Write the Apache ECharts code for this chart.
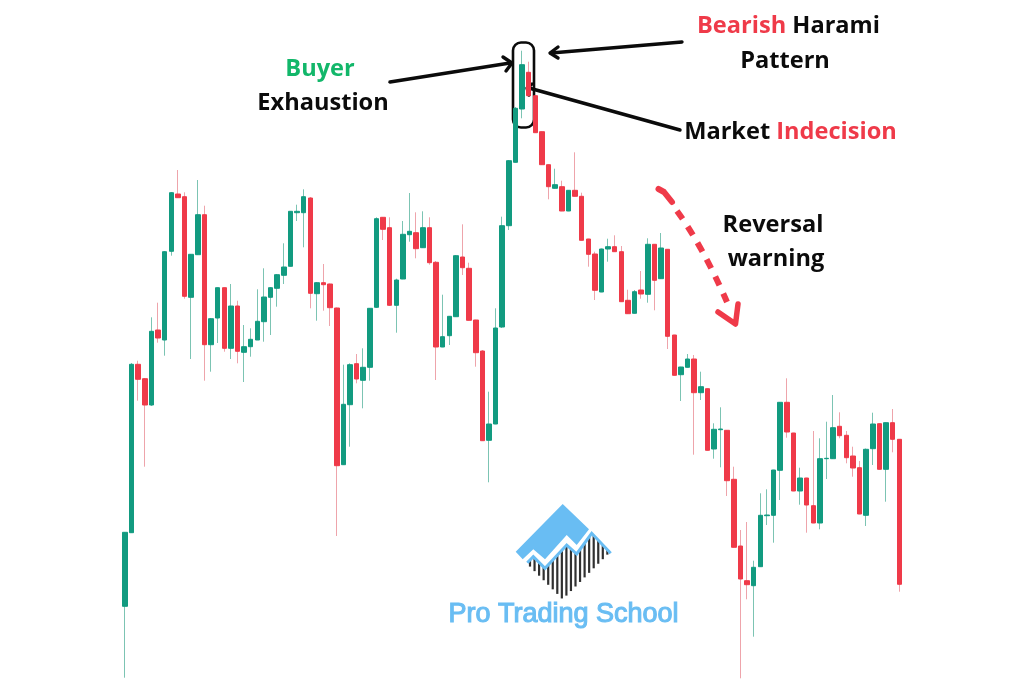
<!DOCTYPE html>
<html>
<head>
<meta charset="utf-8">
<title>Bearish Harami Pattern</title>
<script src="https://cdn.jsdelivr.net/npm/echarts@6/dist/echarts.min.js"></script>
<style>
html, body { margin: 0; padding: 0; background: #fff; }
#chart { width: 1024px; height: 683px; }
</style>
</head>
<body>
<div id="chart"></div>
<script>
var opens = [76.7,150.3,318.7,304.3,278,353,343,431.7,489,486.3,385.7,428.3,468.3,338.3,365,395.3,334.7,377,330.7,336.3,
343,361.3,385.7,394.7,407.7,416.7,470.3,470.3,485,389.3,400.3,399,375,218.3,278.3,319.3,302.7,315.7,375.7,465.7,
455.3,377.7,404,448.3,450.3,435.3,455.3,420.7,336,347.3,366.3,426,414.7,363,332,242.7,259,356,457.3,520.7,
574,610.7,587.3,551.3,518.3,494.7,496.3,472,492.7,486.7,444,429,391,434,436.3,431.3,382.7,369.7,393,388.7,
438.7,404.3,433.7,348,308.3,315.7,324,290.3,294.3,234,253.3,252.7,203.7,137,102.3,97.3,116.3,167.3,167.7,212.7,
280.7,250,192,205,177.3,160,224.3,224.3,256.7,247.7,227,215.3,167.7,234.3,259.3,213.7,260.3,243.7];
var closes = [150.7,318.7,303.7,278,351.7,345,431.3,490.3,485.3,386.7,428.7,468.3,338.3,364.3,395.3,334.7,377,331.7,336.3,343.7,
361.7,386,395.3,408.3,416,471.7,471.7,486.3,389.7,400.3,398.3,375.3,217.3,278.7,318.3,304,315.7,374.7,464.3,453.7,
377.7,403,448.7,451.7,434.3,455.3,420.3,336,346.3,366.7,427.3,415.3,362.7,330.3,242.3,259,355,457.3,522.3,574.7,
618.3,587.3,550.3,518.3,496.3,498.3,472,492.7,486.7,442.7,428.7,392.7,434,436.3,431.3,381.3,369.3,391.3,389,438.7,
402.7,435,346.7,307.7,316,324,290.3,296.3,232.7,253.7,254,202.3,135.7,104,98.3,115.7,167.7,168,213,280.7,
251,192,205,178,160,224.3,224.7,255.3,247.3,225.3,215,169,233.7,259,213.7,260.3,243.7,98.7];
var lows = [5.3,150,282.3,216.3,277,340.3,327.3,427.3,485,384.3,324,428,302.3,311.3,340,331.3,324,319.7,301,326.3,
343,341.3,348,376.3,399,416.5,462,435.7,374.7,362.3,372.3,357,147,218,236.3,299.7,274.7,302.3,375,443,
377,350.3,403.8,441.3,424.7,435,418.3,303,335.8,338,366,408,362.5,316.3,242,200.7,258.8,355,453,520.5,
564.7,587,550,518,483.7,494.5,471.8,471.8,486.5,442.5,416.3,383,390.8,421.3,431,381,369,369.5,384.3,380.3,
372.7,404,334,307.5,282,315.5,228.3,283,232.5,224.3,215.7,187,135.5,4.7,83.7,46.3,116,158,140.3,183,
245.3,191.8,178.3,150.3,159.8,153.7,204,224,244.7,219.7,206.3,168.8,157,218,213.5,181.3,230.7,91.3];
var highs = [151,320,322.3,305,365.7,380.3,432,491,513,490.7,429,503,477.3,365,395.5,395.5,399,382.3,358,354.7,
393.7,414.7,396,409,439.7,472,478.3,493.7,486,401,419,399.5,375.5,318.3,319.7,329,334.7,375,465.7,466,
465.7,404.3,462,490,470.7,471.7,465.7,422,388.3,367,428,458.7,420.3,363.2,333,291.3,374.7,466.3,523,576,
632.3,621.3,587.5,551.5,518.5,514.3,502.3,493,530.7,490.3,444.2,431.3,434.5,444.3,447.7,437,393.3,393,412,444.7,
439,450,434,348.2,316.2,329,328,311.3,294.5,259.7,275.7,253,216.3,153,161,122.3,189.7,193.7,213.2,281,
304.7,250.2,215.3,205.2,252,244.7,261.3,288,270.7,252,236.3,222,234.5,270.3,259.5,260.5,274,243.9];
var categories = opens.map(function (v, i) { return 'C' + (i + 1); });

var upColor = '#129b80';
var downColor = '#ef3a49';
var upWick = '#7cc4b3';
var downWick = '#eea4ab';
var black = '#0b0b0b';
var textGreen = '#12b76a';
var logoBlue = '#69bdf3';
var labelFont = '700 23.6px "Open Sans", sans-serif';

var wickData = opens.map(function (o, i) { return [o, closes[i], lows[i], highs[i]]; });
var bodyData = opens.map(function (o, i) {
    return [o, closes[i], Math.min(o, closes[i]), Math.max(o, closes[i])];
});

function label(cx, cy, text, fill, rich) {
    return {
        type: 'text', silent: true, x: cx, y: cy,
        style: {
            text: text, align: 'center', verticalAlign: 'middle',
            font: labelFont, fill: fill || black, rich: rich
        }
    };
}

function arrow(points, stroke, width) {
    return {
        type: 'polyline', silent: true,
        shape: { points: points },
        style: { stroke: stroke, lineWidth: width, fill: null, lineCap: 'round', lineJoin: 'round' }
    };
}

var twoTone = { r: { fill: downColor, font: labelFont }, k: { fill: black, font: labelFont } };

var graphics = [
    {
        type: 'rect', silent: true,
        shape: { x: 513, y: 42.5, width: 21, height: 85, r: 8 },
        style: { fill: null, stroke: black, lineWidth: 2.6 }
    },
    arrow([[390, 82], [510, 63]], black, 3.4),
    arrow([[503, 57], [512, 63], [506, 71]], black, 3.4),
    arrow([[682, 42], [551, 53]], black, 3.4),
    arrow([[558, 47], [550, 53], [558, 58]], black, 3.4),
    arrow([[680, 130], [529, 88]], black, 3.4),
    arrow([[532, 84], [527, 88], [529, 95]], black, 3.4),
    label(320, 69, 'Buyer', textGreen),
    label(323, 103, 'Exhaustion'),
    label(788.5, 26.5, '{r|Bearish} {k|Harami}', null, twoTone),
    label(785, 61, 'Pattern'),
    label(790.5, 132, '{k|Market} {r|Indecision}', null, twoTone),
    label(773, 225, 'Reversal'),
    label(776, 259, 'warning'),
    arrow([[658.5, 189], [664, 192], [672, 202]], downColor, 6),
    {
        type: 'bezierCurve', silent: true,
        shape: { x1: 677, y1: 211, x2: 727, y2: 302, cpx1: 702, cpy1: 245 },
        style: { stroke: downColor, lineWidth: 6, fill: null, lineDash: [10, 9] }
    },
    arrow([[718, 312], [735.5, 324], [738, 304]], downColor, 5.5),
    {
        type: 'polygon', silent: true,
        shape: { points: [[562.7, 504], [589, 529.3], [576.7, 545], [566.7, 535], [545, 559.3], [533.3, 549.3], [522.7, 559.3], [515.7, 551.7]] },
        style: { fill: logoBlue }
    }
];

// logo stripes: from the zigzag down to the lower edge of the diamond
var zigX = [527.3, 533.3, 545, 566.7, 576.7, 591.7, 610.7];
var zigY = [562.7, 556.7, 568.3, 545, 554, 533.3, 553.3];
for (var sx = 530; sx < 608.5; sx += 4.55) {
    var k = 0;
    while (k < zigX.length - 2 && sx > zigX[k + 1]) k++;
    var stripeTop = zigY[k] + (zigY[k + 1] - zigY[k]) * (sx - zigX[k]) / (zigX[k + 1] - zigX[k]);
    var stripeBottom = 599.3 - Math.abs(sx - 562.7);
    if (stripeBottom > stripeTop) {
        graphics.push({
            type: 'line', silent: true,
            shape: { x1: sx, y1: stripeTop, x2: sx, y2: stripeBottom },
            style: { stroke: '#303030', lineWidth: 2.2 }
        });
    }
}
graphics.push({
    type: 'polyline', silent: true,
    shape: { points: zigX.map(function (x, i) { return [x, zigY[i]]; }) },
    style: { stroke: logoBlue, lineWidth: 3, fill: null }
});
graphics.push({
    type: 'text', silent: true, x: 563.5, y: 615,
    style: { text: 'Pro Trading School', align: 'center', verticalAlign: 'middle', font: '27px "Liberation Sans", sans-serif', fill: logoBlue, stroke: logoBlue, lineWidth: 1.1 }
});

var myChart = echarts.init(document.getElementById('chart'), null, { renderer: 'canvas' });
myChart.setOption({
    animation: false,
    backgroundColor: '#fff',
    grid: { left: 121.7, top: 0, width: 780.9, height: 683 },
    xAxis: { type: 'category', data: categories, show: false },
    yAxis: { type: 'value', min: 0, max: 683, show: false },
    series: [
        {
            type: 'candlestick', name: 'wicks', data: wickData, barWidth: 1, silent: true,
            itemStyle: { color: upWick, color0: downWick, borderColor: upWick, borderColor0: downWick, borderWidth: 1 }
        },
        {
            type: 'candlestick', name: 'bodies', data: bodyData, barWidth: 5, silent: true,
            itemStyle: { color: upColor, color0: downColor, borderColor: upColor, borderColor0: downColor, borderWidth: 1 }
        }
    ],
    graphic: graphics
});
</script>
</body>
</html>
